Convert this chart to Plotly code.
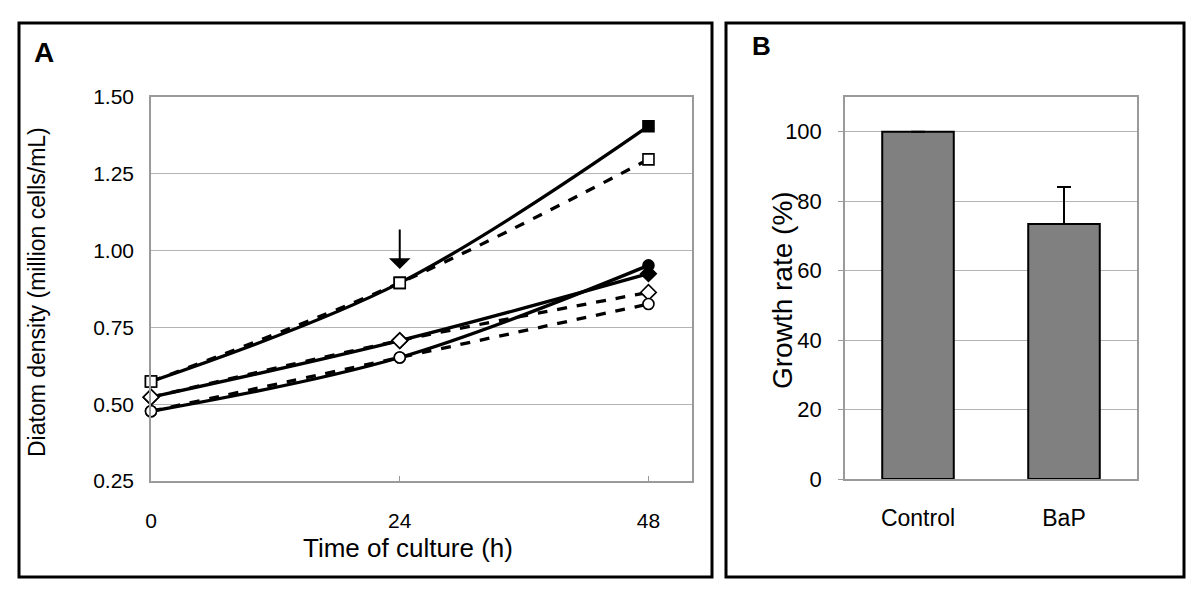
import plotly.graph_objects as go

# ---- Panel A data ----
time_h = [0, 24, 48]
square_control = [0.574, 0.895, 1.405]
square_bap = [0.574, 0.895, 1.297]
diamond_control = [0.523, 0.707, 0.925]
diamond_bap = [0.523, 0.707, 0.864]
circle_control = [0.477, 0.652, 0.952]
circle_bap = [0.477, 0.652, 0.826]
density_ticks = [0.25, 0.50, 0.75, 1.00, 1.25, 1.50]
time_ticks = [0, 24, 48]

# ---- Panel B data ----
groups = ["Control", "BaP"]
growth_rate = [100, 73.4]
growth_err = [0, 10.7]
growth_ticks = [0, 20, 40, 60, 80, 100]

W, H = 1200, 595
OFF = 8  # default page body margin
def px(x): return (x - OFF) / W
def py(y): return 1 - (y - OFF) / H

NARROW = "Liberation Sans Narrow, Arial Narrow, Liberation Sans, Arial"
SANS = "Liberation Sans, Arial, Helvetica"

fig = go.Figure()

open_fill = ["white", "white", "white"]
ctrl_fill = ["white", "white", "black"]

series = [
    ("square", square_bap, square_control, 11),
    ("diamond", diamond_bap, diamond_control, 12),
    ("circle", circle_bap, circle_control, 11),
]
for sym, bap, ctrl, sz in series:
    fig.add_trace(go.Scatter(
        x=time_h, y=bap, mode="lines+markers", xaxis="x", yaxis="y",
        line=dict(color="black", width=3.3, dash="dash", shape="spline", smoothing=1),
        marker=dict(symbol=sym, size=sz, color=open_fill, line=dict(color="black", width=1.6)),
        cliponaxis=False, showlegend=False, hoverinfo="skip"))
for sym, bap, ctrl, sz in series:
    fig.add_trace(go.Scatter(
        x=time_h, y=ctrl, mode="lines+markers", xaxis="x", yaxis="y",
        line=dict(color="black", width=3.3, shape="spline", smoothing=1),
        marker=dict(symbol=sym, size=sz, color=ctrl_fill, line=dict(color="black", width=1.6)),
        cliponaxis=False, showlegend=False, hoverinfo="skip"))

fig.add_trace(go.Bar(
    x=groups, y=growth_rate, xaxis="x2", yaxis="y2",
    marker=dict(color="#808080", line=dict(color="black", width=2)),
    error_y=dict(type="data", symmetric=False, array=growth_err,
                 arrayminus=[0, 0], color="black", thickness=2, width=7),
    showlegend=False, hoverinfo="skip"))

grid = "#b4b4b4"
frame = "#9a9a9a"

fig.update_layout(
    width=W, height=H, margin=dict(l=0, r=0, t=0, b=0),
    paper_bgcolor="white", plot_bgcolor="white",
    bargap=0.51,
    xaxis=dict(domain=[px(151), px(692)], range=[0, 52.2], tickvals=time_ticks,
               ticks="inside", ticklen=5, tickcolor=frame, showgrid=False,
               showline=True, linecolor=frame, linewidth=1.5, mirror=True, zeroline=False,
               tickfont=dict(family=NARROW, size=21, color="black"), ticklabelstandoff=20,
               automargin=False, anchor="y"),
    yaxis=dict(domain=[py(481), py(97)], range=[0.25, 1.5], tickvals=density_ticks, tickformat=".2f",
               showgrid=True, gridcolor=grid, gridwidth=1, ticks="",
               showline=True, linecolor=frame, linewidth=1.5, mirror=True, zeroline=False,
               tickfont=dict(family=NARROW, size=21, color="black"), ticklabelstandoff=11,
               automargin=False, anchor="x"),
    xaxis2=dict(domain=[px(845), px(1137)], showgrid=False, ticks="",
                showline=True, linecolor=frame, linewidth=1.5, mirror=True,
                tickfont=dict(family=SANS, size=23, color="black"), ticklabelstandoff=18,
                automargin=False, anchor="y2"),
    yaxis2=dict(domain=[py(479), py(97)], range=[0, 110], tickvals=growth_ticks,
                showgrid=True, gridcolor=grid, gridwidth=1, ticks="outside", ticklen=5, tickcolor=frame,
                showline=True, linecolor=frame, linewidth=1.5, mirror=True, zeroline=False,
                tickfont=dict(family=SANS, size=22, color="black"), ticklabelstandoff=12,
                automargin=False, anchor="x2"),
    shapes=[
        dict(type="rect", xref="paper", yref="paper", x0=px(19), x1=px(712), y0=py(577), y1=py(23),
             line=dict(color="black", width=3)),
        dict(type="rect", xref="paper", yref="paper", x0=px(726), x1=px(1184), y0=py(577), y1=py(23),
             line=dict(color="black", width=3)),
    ],
    annotations=[
        dict(text="<b>A</b>", xref="paper", yref="paper", x=px(32), y=py(53), xanchor="left", yanchor="middle",
             showarrow=False, font=dict(family=NARROW, size=28, color="black")),
        dict(text="<b>B</b>", xref="paper", yref="paper", x=px(750), y=py(46), xanchor="left", yanchor="middle",
             showarrow=False, font=dict(family=SANS, size=26, color="black")),
        dict(text="Time of culture (h)", xref="paper", yref="paper", x=px(408), y=py(548),
             xanchor="center", yanchor="middle", showarrow=False,
             font=dict(family=NARROW, size=26, color="black")),
        dict(text="Diatom density (million cells/mL)", xref="paper", yref="paper", x=px(37), y=py(292),
             xanchor="center", yanchor="middle", textangle=-90, showarrow=False,
             font=dict(family=NARROW, size=23, color="black")),
        dict(text="Growth rate (%)", xref="paper", yref="paper", x=px(782), y=py(290),
             xanchor="center", yanchor="middle", textangle=-90, showarrow=False,
             font=dict(family=SANS, size=28, color="black")),
        dict(text="", x=24, y=0.94, xref="x", yref="y", ax=0, ay=-41, showarrow=True,
             arrowhead=1, arrowsize=1.8, arrowwidth=2, arrowcolor="black"),
    ],
)

fig.write_html("out.html")
